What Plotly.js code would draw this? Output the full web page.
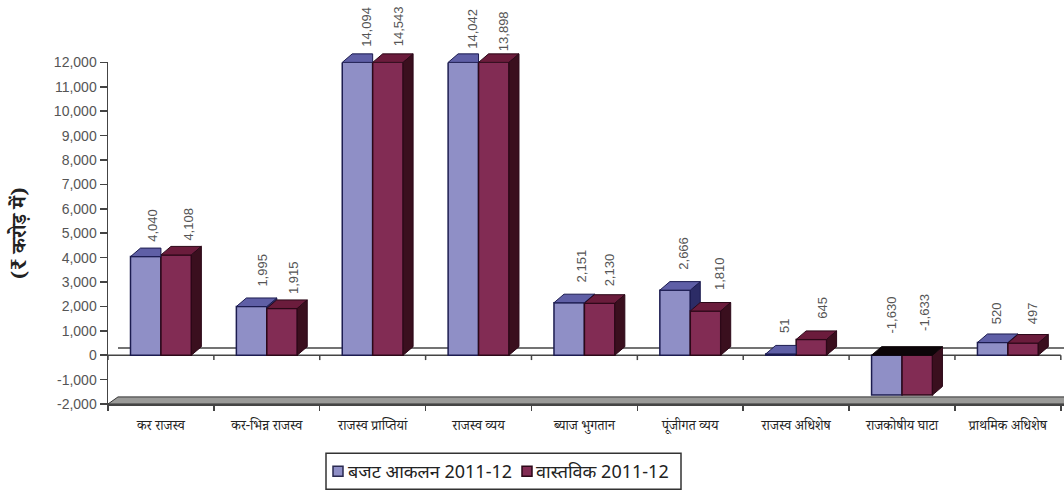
<!DOCTYPE html>
<html>
<head>
<meta charset="utf-8">
<script src="https://cdn.plot.ly/plotly-3.0.1.min.js"></script>
<style>html,body{margin:0;padding:0;background:#fff;overflow:hidden}</style>
</head>
<body>
<div id="chart" style="width:1064px;height:491px"></div>
<script>
// Budget estimates against actuals, 2011-12 (₹ crore)
const categories = ['कर राजस्व', 'कर-भिन्न राजस्व', 'राजस्व प्राप्तियां', 'राजस्व व्यय', 'ब्याज भुगतान', 'पूंजीगत व्यय', 'राजस्व अधिशेष', 'राजकोषीय घाटा', 'प्राथमिक अधिशेष'];
const budget = [4040, 1995, 14094, 14042, 2151, 2666, 51, -1630, 520];
const actual = [4108, 1915, 14543, 13898, 2130, 1810, 645, -1633, 497];
const budgetName = 'बजट आकलन 2011-12';
const actualName = 'वास्तविक 2011-12';
const yTitle = '(₹ करोड़ में)';
const yTicks = [-2000, -1000, 0, 1000, 2000, 3000, 4000, 5000, 6000, 7000, 8000, 9000, 10000, 11000, 12000];

// Value axis stops at Y_MAX; a hidden twin axis with the same scale leaves headroom
// for the extruded faces of the bars that run off the top.
const Y_MIN = -2000, Y_MAX = 12000, Y_HEAD = 13000;
const GAP = 0.425;
const HALF = (1 - GAP) / 2;         // one bar's width, in category units
const DX = 0.0944, DY = 350;        // depth of the bars
const PLANE_DY = 290;               // depth of the zero plane and floor
const X_END = 8.53;

const BLUE = '#8f8fc6', BLUE_TOP = '#5f5fa6', BLUE_EDGE = '#1c1c50';
const RED = '#822c54', RED_TOP = '#6b1c3c', RED_SIDE = '#3a0f1e', RED_EDGE = '#2c0818';
const BLACK_TOP = '#0c0508';

// Page geometry
const W = 1064, H = 491, M = { l: 108, r: 0, t: 37.5, b: 86.5 };
const paperX = px => (px - M.l) / (W - M.l - M.r);
const paperY = py => (H - M.b - py) / (H - M.t - M.b);

// Pixel nudges for the rotated value labels, relative to the top centre of each bar
const shiftXBudget = [6, 10, 9, 9, 12, 9, 4, 5, 4];
const shiftYBudget = [13, 18, 14, 12, 18, 18, 19, 20, 16];
const shiftXActual = [12, 12, 11, 10, 10, 14, 11, 7, 9];
const shiftYActual = [12, 12, 14, 9, 15, 19, 19, 22, 17];

const clip = v => Math.min(v, Y_MAX);
const idx = categories.map((_, i) => i);
const boundaries = categories.map((_, i) => i - 0.5).concat(categories.length - 0.5);

// Collects closed polygons into one null-separated path per fill colour
function polyTrace(polys, fill, edge) {
  const x = [], y = [];
  polys.forEach(p => {
    p.forEach(pt => { x.push(pt[0]); y.push(pt[1]); });
    x.push(p[0][0]); y.push(p[0][1]);
    x.push(null); y.push(null);
  });
  return {
    type: 'scatter', mode: 'lines', yaxis: 'y2', x, y, fill: 'toself', fillcolor: fill,
    line: { color: edge, width: 1 }, showlegend: false, hoverinfo: 'skip'
  };
}

const blueSide = [], blueTop = [], redTop = [], redSide = [], negTop = [];
idx.forEach(i => {
  const x0 = i - HALF, x1 = i, x2 = i + HALF;
  const b = clip(budget[i]), r = clip(actual[i]);
  if (b < 0 || r < 0) {
    negTop.push([[x0, 0], [x2, 0], [x2 + DX, DY], [x0 + DX, DY]]);
    redSide.push([[x2, 0], [x2 + DX, DY], [x2 + DX, r + DY], [x2, r]]);
    return;
  }
  if (b > r) {
    blueSide.push([[x1, r], [x1, b], [x1 + DX, b + DY], [x1 + DX, r + DY]]);
    blueTop.push([[x0, b], [x1, b], [x1 + DX, b + DY], [x0 + DX, b + DY]]);
  } else {
    // the taller neighbour hides the far end of this top face
    blueTop.push([[x0, b], [x1, b], [x1, b + DY], [x0 + DX, b + DY]]);
  }
  redTop.push([[x1, r], [x2, r], [x2 + DX, r + DY], [x1 + DX, r + DY]]);
  redSide.push([[x2, 0], [x2 + DX, DY], [x2 + DX, r + DY], [x2, r]]);
});

// Short ticks hanging from the zero line at each category boundary
const zeroTickX = [], zeroTickY = [];
boundaries.forEach(b => { zeroTickX.push(b, b, null); zeroTickY.push(0, -200, null); });

const traces = [
  { type: 'bar', name: budgetName, x: idx, y: budget, marker: { color: BLUE, line: { color: BLUE_EDGE, width: 1.5 } }, hoverinfo: 'skip' },
  { type: 'bar', name: actualName, x: idx, y: actual, marker: { color: RED, line: { color: RED_EDGE, width: 1.5 } }, hoverinfo: 'skip' },
  polyTrace([[[-0.5, Y_MIN], [-0.5 + DX, Y_MIN + PLANE_DY], [X_END + DX, Y_MIN + PLANE_DY], [X_END, Y_MIN]]], '#9a9a98', '#333333'),
  polyTrace(blueSide, '#2c2c66', BLUE_EDGE),
  polyTrace(blueTop, BLUE_TOP, BLUE_EDGE),
  polyTrace(redTop, RED_TOP, RED_EDGE),
  polyTrace(redSide, RED_SIDE, RED_EDGE),
  polyTrace(negTop, BLACK_TOP, BLACK_TOP),
  { type: 'scatter', mode: 'lines', x: zeroTickX, y: zeroTickY, line: { color: '#444', width: 1.5 }, showlegend: false, hoverinfo: 'skip' }
];

const labelFont = { family: 'Liberation Sans, Arial, sans-serif', size: 13, color: '#555' };
const valueLabel = (v, x, sx, sy) => ({
  xref: 'x', yref: 'y', x, y: clip(Math.max(v, 0)),
  xshift: sx, yshift: sy, xanchor: 'center', yanchor: 'bottom',
  text: v.toLocaleString('en-US'), textangle: -90, showarrow: false, font: labelFont
});

const annotations = [];
idx.forEach(i => {
  annotations.push(valueLabel(budget[i], i - HALF / 2, shiftXBudget[i], shiftYBudget[i]));
  annotations.push(valueLabel(actual[i], i + HALF / 2, shiftXActual[i], shiftYActual[i]));
});

// Legend: framed strip under the axis with small square keys
const legendFont = { family: 'Noto Sans, DejaVu Sans, sans-serif', size: 18, color: '#222' };
const legendText = (text, px) => ({
  xref: 'paper', yref: 'paper', x: paperX(px), y: paperY(472), xanchor: 'left', yanchor: 'middle',
  text, showarrow: false, font: legendFont
});
annotations.push(legendText(budgetName, 346), legendText(actualName, 534));

const legendKey = (px, fill, edge) => ({
  type: 'rect', xref: 'paper', yref: 'paper', layer: 'above',
  x0: paperX(px), x1: paperX(px + 10), y0: paperY(477), y1: paperY(467),
  fillcolor: fill, line: { color: edge, width: 1.5 }
});

const layout = {
  width: W, height: H,
  margin: { l: M.l, r: M.r, t: M.t, b: M.b, pad: 0 },
  paper_bgcolor: '#fff', plot_bgcolor: 'rgba(0,0,0,0)',
  barmode: 'group', bargap: GAP, bargroupgap: 0,
  hovermode: false, showlegend: false,
  xaxis: {
    type: 'linear', range: [-0.5, X_END], showgrid: false, zeroline: false,
    showline: true, linecolor: '#444', linewidth: 1.5,
    tickmode: 'array', tickvals: idx, ticktext: categories, ticks: '',
    tickfont: { family: 'Noto Serif Devanagari, Lohit Devanagari, Noto Sans Devanagari, serif', size: 13.5, color: '#222' },
    ticklabelstandoff: 8,
    minor: { tickmode: 'array', tickvals: boundaries, ticks: 'outside', ticklen: 5, tickwidth: 1.5, tickcolor: '#444', showgrid: false }
  },
  yaxis: {
    domain: [0, (Y_MAX - Y_MIN) / (Y_HEAD - Y_MIN)],
    range: [Y_MIN, Y_MAX], showgrid: false, zeroline: false, showline: true, linecolor: '#444', linewidth: 1.5,
    tickmode: 'array', tickvals: yTicks, ticktext: yTicks.map(v => v.toLocaleString('en-US')),
    ticks: 'outside', ticklen: 7, tickwidth: 1.5, tickcolor: '#444',
    tickfont: { family: 'Liberation Sans, Arial, sans-serif', size: 14, color: '#555' },
    title: { text: yTitle, standoff: 22, font: { family: 'Noto Serif Devanagari, serif', size: 20, color: '#222', weight: 700 } }
  },
  yaxis2: { domain: [0, 1], range: [Y_MIN, Y_HEAD], anchor: 'x', visible: false, showgrid: false, zeroline: false },
  shapes: [
    { type: 'line', layer: 'below', xref: 'x', yref: 'y', x0: -0.5 + DX, x1: X_END, y0: PLANE_DY, y1: PLANE_DY, line: { color: '#444', width: 1.5 } },
    { type: 'line', layer: 'below', xref: 'x', yref: 'y', x0: -0.5, x1: 8.5, y0: 0, y1: 0, line: { color: '#444', width: 1.5 } },
    { type: 'rect', xref: 'paper', yref: 'paper', layer: 'above',
      x0: paperX(326), x1: paperX(681), y0: paperY(490), y1: paperY(454), line: { color: '#333', width: 1.5 } },
    legendKey(333, BLUE, '#2a2a50'),
    legendKey(522, RED, RED_EDGE)
  ],
  annotations
};

Plotly.newPlot('chart', traces, layout, { staticPlot: true, displayModeBar: false });
</script>
</body>
</html>
